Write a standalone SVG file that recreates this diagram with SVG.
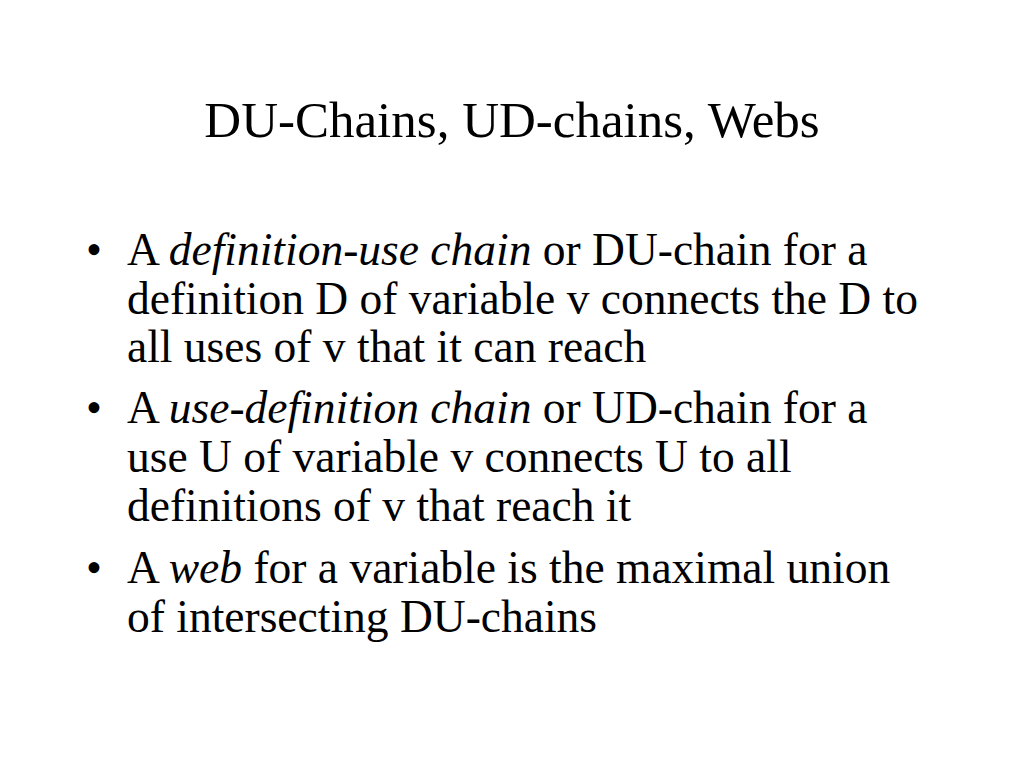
<svg xmlns="http://www.w3.org/2000/svg" width="1024" height="768" viewBox="0 0 1024 768">
<style>
.t{font-family:"Liberation Serif","Times New Roman",serif;fill:#000}
.title{font-size:51px}
.b{font-size:45.5px}
</style>
<rect width="1024" height="768" fill="#fff"/>
<g id="title"><text class="t title" x="512" y="137" text-anchor="middle">DU-Chains, UD-chains, Webs</text></g>
<g id="bullet1">
<text class="t b" x="86" y="265">•</text>
<text class="t b" x="127" y="265">A <tspan font-style="italic">definition-use chain</tspan> or DU-chain for a</text>
<text class="t b" x="127" y="314">definition D of variable v connects the D to</text>
<text class="t b" x="127" y="362">all uses of v that it can reach</text>
</g>
<g id="bullet2">
<text class="t b" x="86" y="423">•</text>
<text class="t b" x="127" y="423">A <tspan font-style="italic">use-definition chain</tspan> or UD-chain for a</text>
<text class="t b" x="127" y="472">use U of variable v connects U to all</text>
<text class="t b" x="127" y="521">definitions of v that reach it</text>
</g>
<g id="bullet3">
<text class="t b" x="86" y="583">•</text>
<text class="t b" x="127" y="583">A <tspan font-style="italic">web</tspan> for a variable is the maximal union</text>
<text class="t b" x="127" y="632">of intersecting DU-chains</text>
</g>
</svg>
